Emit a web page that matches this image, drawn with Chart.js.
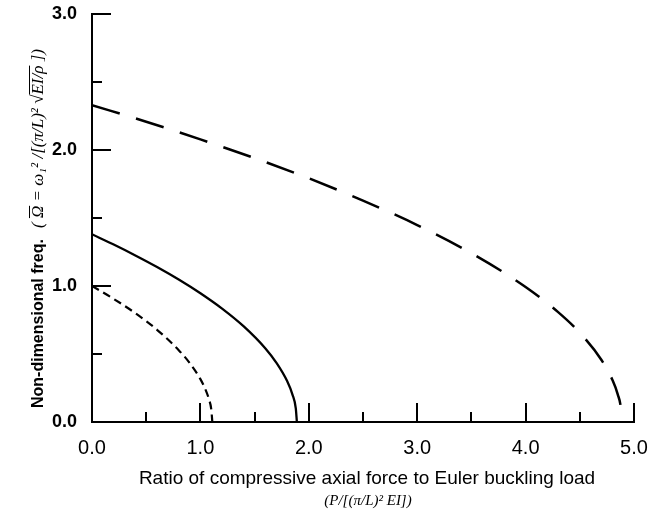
<!DOCTYPE html>
<html>
<head>
<meta charset="utf-8">
<script src="https://cdn.jsdelivr.net/npm/chart.js@4"></script>
<style>
  body { margin: 0; background: #fff; }
  canvas { display: block; }
</style>
</head>
<body>
<canvas id="chart-freq" width="648" height="514"></canvas>
<script>
// frequency vs. axial load ratio, three cases
const ratioShort = [0, 0.2, 0.4, 0.6, 0.8, 0.9, 1.0, 1.05, 1.08, 1.1, 1.11];
const freqShort = [1.0, 0.905, 0.80, 0.678, 0.528, 0.435, 0.315, 0.232, 0.164, 0.095, 0];

const ratioSolid = [0, 0.2, 0.4, 0.6, 0.8, 1.0, 1.2, 1.4, 1.6, 1.7, 1.8, 1.85, 1.88, 1.89];
const freqSolid = [1.38, 1.305, 1.225, 1.14, 1.048, 0.947, 0.834, 0.703, 0.541, 0.437, 0.301, 0.20, 0.10, 0];

const ratioLong = [0, 0.5, 1.0, 1.5, 2.0, 2.5, 3.0, 3.5, 4.0, 4.3, 4.5, 4.7, 4.8, 4.85, 4.88, 4.887];
const freqLong = [2.33, 2.208, 2.078, 1.94, 1.792, 1.628, 1.448, 1.241, 0.993, 0.808, 0.656, 0.456, 0.311, 0.203, 0.09, 0];

const xTitle = "Ratio of compressive axial force to Euler buckling load";
const xFormula = "(P/[(\u03C0/L)\u00B2 EI])";
const yTitle = "Non-dimensional freq.";

const toPoints = (xs, ys) => xs.map((v, i) => ({ x: v, y: ys[i] }));
const tickLabel = (v) => (Number.isInteger(v) ? v.toFixed(1) : "");

const curve = (xs, ys, dash, width) => ({
  data: toPoints(xs, ys),
  borderColor: "#000",
  borderWidth: width,
  borderDash: dash,
  borderCapStyle: "butt",
  pointRadius: 0,
  fill: false,
  cubicInterpolationMode: "monotone",
});

// tick marks pointing into the plot, long on whole numbers
const inwardTicks = {
  id: "inwardTicks",
  beforeDatasetsDraw(chart) {
    const { ctx, chartArea, scales: { x, y } } = chart;
    ctx.save();
    ctx.strokeStyle = "#000";
    ctx.lineWidth = 2;
    ctx.beginPath();
    x.ticks.forEach((t) => {
      const px = Math.round(x.getPixelForValue(t.value));
      const len = Number.isInteger(t.value) ? 19 : 10;
      ctx.moveTo(px, chartArea.bottom);
      ctx.lineTo(px, chartArea.bottom - len);
    });
    y.ticks.forEach((t) => {
      const py = Math.round(y.getPixelForValue(t.value));
      const len = Number.isInteger(t.value) ? 19 : 10;
      ctx.moveTo(chartArea.left, py);
      ctx.lineTo(chartArea.left + len, py);
    });
    ctx.stroke();
    ctx.restore();
  },
};

// axis titles with the formulas in serif italic
const axisTitles = {
  id: "axisTitles",
  afterDraw(chart) {
    const { ctx, chartArea } = chart;
    ctx.save();
    ctx.fillStyle = "#000";
    ctx.textBaseline = "alphabetic";

    ctx.textAlign = "center";
    ctx.font = '19px "Liberation Sans", Arial, sans-serif';
    ctx.fillText(xTitle, chartArea.left + 275, 484);
    ctx.font = 'italic 15px "Liberation Serif", serif';
    ctx.fillText(xFormula, chartArea.left + 276, 505);

    ctx.translate(43, chartArea.bottom - 14);
    ctx.rotate(-Math.PI / 2);
    ctx.textAlign = "left";
    ctx.font = 'bold 16px "Liberation Sans", Arial, sans-serif';
    ctx.fillText(yTitle, 0, 0);

    ctx.font = 'italic 17px "Liberation Serif", serif';
    let cx = 180;
    const put = (s, bar) => {
      ctx.fillText(s, cx, 0);
      const w = ctx.measureText(s).width;
      if (bar) ctx.fillRect(cx, -14, w, 1);
      cx += w;
    };
    put("( ");
    put("\u03A9", true);
    put(" = \u03C9\u2081\u00B2 /[(\u03C0/L)\u00B2 \u221A");
    put("EI/\u03C1", true);
    put(" ])");
    ctx.restore();
  },
};

const config = {
  type: "line",
  data: {
    datasets: [
      curve(ratioShort, freqShort, [8, 5], 2.2),
      curve(ratioSolid, freqSolid, [], 2.3),
      curve(ratioLong, freqLong, [29, 17], 2.5),
    ],
  },
  options: {
    responsive: false,
    animation: false,
    layout: { padding: { top: 14, right: 14, left: 0, bottom: 0 } },
    scales: {
      x: {
        type: "linear",
        min: 0,
        max: 5,
        afterFit: (s) => {
          s.height = 92;
          s.paddingLeft = 0;
          s.paddingRight = 0;
        },
        grid: { display: false, drawTicks: false },
        border: { display: true, color: "#000", width: 2 },
        ticks: {
          stepSize: 0.5,
          autoSkip: false,
          maxRotation: 0,
          padding: 14,
          color: "#000",
          font: { family: '"Liberation Sans", Arial, sans-serif', size: 20 },
          callback: tickLabel,
        },
      },
      y: {
        min: 0,
        max: 3,
        afterFit: (s) => {
          s.width = 92;
          s.paddingTop = 0;
          s.paddingBottom = 0;
        },
        grid: { display: false, drawTicks: false },
        border: { display: true, color: "#000", width: 2 },
        ticks: {
          stepSize: 0.5,
          autoSkip: false,
          padding: 15,
          color: "#000",
          font: { family: '"Liberation Sans", Arial, sans-serif', size: 18, weight: "bold" },
          callback: tickLabel,
        },
      },
    },
    plugins: {
      legend: { display: false },
      tooltip: { enabled: false },
    },
  },
  plugins: [inwardTicks, axisTitles],
};

const freqChart = new Chart(document.getElementById("chart-freq"), config);
</script>
</body>
</html>
